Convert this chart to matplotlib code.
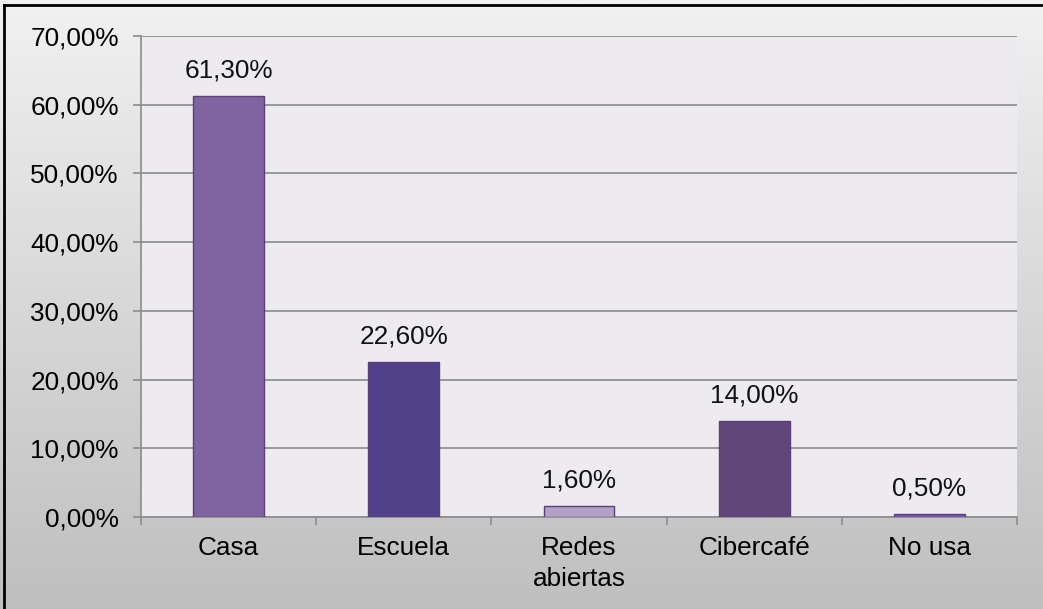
import numpy as np
import matplotlib
matplotlib.use("Agg")
import matplotlib.pyplot as plt
from matplotlib.colors import LinearSegmentedColormap
from matplotlib.lines import Line2D

categories = ["Casa", "Escuela", "Redes\nabiertas", "Cibercafé", "No usa"]
values = [61.30, 22.60, 1.60, 14.00, 0.50]
bar_colors = ["#8064a2", "#51418a", "#b3a2c7", "#5f4879", "#7a5cb4"]
y_ticks = [0, 10, 20, 30, 40, 50, 60, 70]

plt.rcParams["font.family"] = ["Liberation Sans", "DejaVu Sans"]

W, H, DPI = 1043, 609, 100
FS = 18.8
fig = plt.figure(figsize=(W / DPI, H / DPI), dpi=DPI)

# gradient background of the chart area
bg = fig.add_axes([0, 0, 1, 1], zorder=-10)
grad = np.linspace(0, 1, 256).reshape(-1, 1)
bg.imshow(grad, aspect="auto", extent=[0, 1, 0, 1], origin="upper",
          cmap=LinearSegmentedColormap.from_list("g", ["#f1f1f1", "#bfbfbf"]))
bg.set_axis_off()

# chart frame, only top and left edges are inside the picture
bx, by = 4 / W, 1 - 5 / H
fig.add_artist(Line2D([bx, 1.0], [by, by], transform=fig.transFigure, color="black", linewidth=2))
fig.add_artist(Line2D([bx, bx], [0, by], transform=fig.transFigure, color="black", linewidth=2))

x0, x1 = 141, 1017
y_top, y_bot = 36, 517
ax = fig.add_axes([x0 / W, 1 - y_bot / H, (x1 - x0) / W, (y_bot - y_top) / H])
ax.set_facecolor("#edebf0")

x = np.arange(len(categories))
ax.bar(x, values, width=0.405, color=bar_colors, edgecolor="#5a3f7a", linewidth=1, zorder=3)
for xi, v in zip(x, values):
    ax.text(xi, v + 1.9, f"{v:.2f}%".replace(".", ","), ha="center", va="bottom",
            fontsize=FS, color="#111111")

ax.set_xlim(-0.5, len(categories) - 0.5)
ax.set_ylim(0, 70)
ax.set_yticks(y_ticks)
ax.set_yticklabels([f"{t:.2f}%".replace(".", ",") for t in y_ticks], fontsize=FS)
ax.yaxis.grid(True, color="#8c8c8c", linewidth=1.2, zorder=0)
ax.set_axisbelow(True)

ax.set_xticks(np.arange(-0.5, len(categories), 1.0))
ax.set_xticklabels([])
ax.set_xticks(x, minor=True)
ax.set_xticklabels(categories, minor=True, fontsize=FS, linespacing=1.35)
ax.tick_params(axis="x", which="minor", length=0, pad=14)
ax.tick_params(axis="x", which="major", length=5.5, color="#8c8c8c", width=1.2)
ax.tick_params(axis="y", length=6, color="#8c8c8c", width=1.2, pad=10)

for side in ["top", "right"]:
    ax.spines[side].set_visible(False)
for side in ["left", "bottom"]:
    ax.spines[side].set_color("#8c8c8c")
    ax.spines[side].set_linewidth(1.2)

fig.savefig("out.png", dpi=DPI)
